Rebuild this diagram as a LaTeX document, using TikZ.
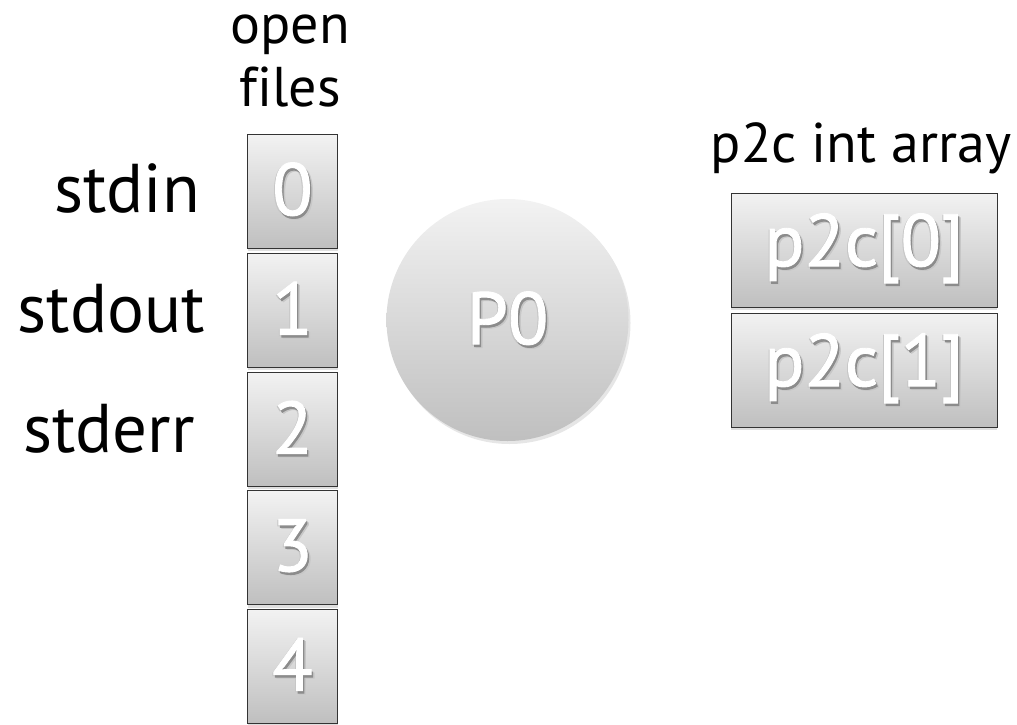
\documentclass[tikz,border=0pt]{standalone}
\usepackage{fontspec}
\setmainfont[Ligatures=NoCommon]{PT Sans}
\newfontfamily\boxfont[FakeBold=1.2]{PT Sans}
\usetikzlibrary{shadows,shapes.geometric}
\newcommand\shd[1]{%
  \makebox[0pt][l]{\raisebox{-3.5pt}{\hspace{3pt}\textcolor{black!22}{#1}}}%
  \makebox[0pt][l]{\raisebox{-1pt}{\hspace{-1pt}\textcolor{black!22}{#1}}}%
  \makebox[0pt][l]{\raisebox{-2.5pt}{\hspace{1.5pt}\textcolor{black!45}{#1}}}%
  \textcolor{white}{#1}}
\tikzset{
  cell/.style={draw=black!80, line width=0.8pt, top color=black!5, bottom color=black!25,
    minimum width=90pt, minimum height=114pt, inner sep=0pt,
    font=\boxfont\fontsize{74}{80}\selectfont,
    drop shadow={shadow xshift=0pt, shadow yshift=-3pt, opacity=0.25}},
  wide/.style={cell, minimum width=266pt},
  proc/.style={circle, draw=none, top color=black!5, bottom color=black!25, minimum size=242pt, inner sep=0pt,
    font=\boxfont\fontsize{74}{80}\selectfont,
    drop shadow={shadow xshift=2pt, shadow yshift=-3pt, opacity=0.2}},
  lbl/.style={font=\fontsize{69}{72}\selectfont, inner sep=0pt, text=black},
  hdr/.style={font=\fontsize{56}{60}\selectfont, inner sep=0pt, text=black}
}
\begin{document}
\begin{tikzpicture}[x=1pt,y=1pt]
\useasboundingbox (0,0) rectangle (1017,-725);
% open files column
\foreach \i/\y in {0/191,1/310,2/429,3/547.5,4/666} {
  \node[cell] (b\i) at (292.5,-\y) {\shd{\i}};
}
% process
\node[proc] (p0) at (507.5,-320) {\shd{P0}};
% array
\node[wide] (a0) at (864,-250) {\shd{p2c[0]}};
\node[wide] (a1) at (864,-370) {\shd{p2c[1]}};
% labels
\node[lbl, anchor=base east] (stdin) at (200,-212) {stdin};
\node[lbl, anchor=base east] (stdout) at (205,-332) {stdout};
\node[lbl, anchor=base east] (stderr) at (195,-452) {stderr};
\node[hdr, anchor=base] (open) at (290,-44) {open};
\node[hdr, anchor=base] (files) at (290,-106) {files};
\node[hdr, anchor=base] (arr) at (861,-162) {p2c int array};
\end{tikzpicture}
\end{document}
